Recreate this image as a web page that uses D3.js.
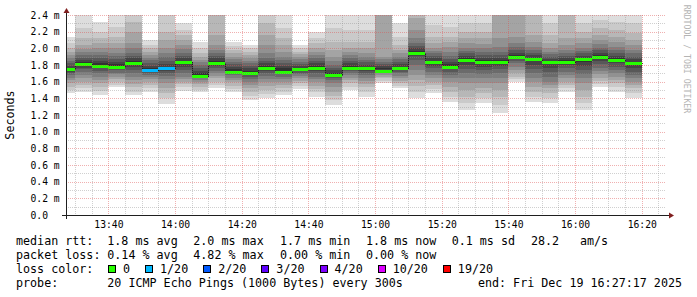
<!DOCTYPE html>
<html>
<head>
<meta charset="utf-8">
<script src="https://cdn.jsdelivr.net/npm/d3@7"></script>
<style>
body { margin: 0; background: #fff; }
text { font-family: "DejaVu Sans Mono", monospace; fill: #000; }
</style>
</head>
<body>
<svg id="chart" width="697" height="297"></svg>
<script>

// end of each 5 minute step (hh:mm, Dec 19 2025)
var stepEnds = ["13:30","13:35","13:40","13:45","13:50","13:55","14:00","14:05","14:10","14:15",
                "14:20","14:25","14:30","14:35","14:40","14:45","14:50","14:55","15:00","15:05",
                "15:10","15:15","15:20","15:25","15:30","15:35","15:40","15:45","15:50","15:55",
                "16:00","16:05","16:10","16:15","16:20"];

// median rtt in ms
var medians = [1.75,1.81,1.79,1.78,1.82,1.74,1.76,1.83,1.67,1.82,1.72,1.71,1.77,1.72,1.75,1.76,1.68,1.76,
               1.76,1.73,1.77,1.95,1.83,1.78,1.86,1.84,1.83,1.90,1.87,1.83,1.84,1.87,1.90,1.86,1.82];

// lost pings out of 20
var lost = [0,0,0,0,0,1,1,0,0,0,0,0,0,0,0,0,0,0,0,0,0,0,0,0,0,0,0,0,0,0,0,0,0,0,0];

// the 20 sorted ping times (ms) of every step
var pings = [
  [1.46,1.50,1.54,1.58,1.62,1.65,1.68,1.70,1.72,1.74,1.77,1.79,1.82,1.85,1.88,1.92,1.96,2.00,2.06,2.14],
  [1.47,1.52,1.56,1.60,1.64,1.68,1.72,1.75,1.77,1.79,1.83,1.86,1.88,1.92,1.96,1.99,2.04,2.12,2.24,2.45],
  [1.44,1.49,1.53,1.58,1.62,1.66,1.70,1.73,1.76,1.78,1.82,1.85,1.88,1.92,1.96,2.01,2.06,2.12,2.20,2.32],
  [1.53,1.56,1.60,1.63,1.66,1.69,1.71,1.74,1.76,1.78,1.81,1.84,1.87,1.91,1.95,2.00,2.06,2.14,2.26,2.45],
  [1.44,1.48,1.53,1.57,1.62,1.66,1.70,1.74,1.78,1.81,1.85,1.88,1.91,1.95,2.00,2.06,2.20,2.32,2.60,2.90],
  [1.48,1.52,1.56,1.60,1.63,1.66,1.68,1.70,1.72,1.74,1.76,1.79,1.82,1.86,1.89,1.92,1.96,2.00,2.04,2.10],
  [1.33,1.40,1.46,1.52,1.58,1.63,1.67,1.70,1.73,1.75,1.78,1.81,1.85,1.90,1.95,2.01,2.10,2.20,2.50,2.80],
  [1.49,1.53,1.57,1.60,1.63,1.66,1.70,1.74,1.78,1.81,1.85,1.88,1.91,1.95,1.99,2.04,2.10,2.16,2.22,2.30],
  [1.47,1.50,1.54,1.57,1.60,1.62,1.64,1.66,1.67,1.68,1.70,1.73,1.76,1.80,1.83,1.86,1.90,1.95,2.00,2.08],
  [1.52,1.56,1.60,1.64,1.67,1.70,1.73,1.76,1.79,1.82,1.85,1.88,1.91,1.94,1.98,2.04,2.16,2.45,2.60,2.90],
  [1.47,1.51,1.55,1.59,1.62,1.65,1.68,1.70,1.72,1.73,1.75,1.78,1.81,1.84,1.87,1.90,1.94,1.98,2.03,2.08],
  [1.38,1.43,1.48,1.52,1.56,1.60,1.63,1.66,1.69,1.71,1.73,1.76,1.79,1.82,1.85,1.88,1.92,1.96,2.00,2.04],
  [1.40,1.45,1.50,1.55,1.59,1.63,1.67,1.70,1.73,1.76,1.79,1.82,1.85,1.89,1.94,2.04,2.16,2.30,2.60,2.80],
  [1.44,1.48,1.52,1.56,1.60,1.63,1.66,1.69,1.71,1.73,1.76,1.79,1.82,1.86,1.90,1.96,2.04,2.12,2.24,2.45],
  [1.51,1.55,1.58,1.61,1.64,1.67,1.69,1.71,1.73,1.75,1.77,1.79,1.81,1.84,1.87,1.90,1.93,1.96,2.00,2.04],
  [1.42,1.47,1.51,1.55,1.59,1.63,1.66,1.70,1.73,1.76,1.79,1.82,1.85,1.88,1.92,1.96,2.01,2.06,2.12,2.20],
  [1.32,1.38,1.43,1.48,1.54,1.58,1.62,1.65,1.67,1.69,1.71,1.74,1.77,1.80,1.85,1.90,1.98,2.08,2.24,2.45],
  [1.50,1.54,1.58,1.62,1.65,1.68,1.71,1.73,1.75,1.77,1.79,1.82,1.85,1.88,1.92,1.96,2.01,2.08,2.22,2.45],
  [1.42,1.48,1.53,1.57,1.61,1.65,1.68,1.71,1.73,1.75,1.78,1.80,1.83,1.86,1.90,1.95,2.00,2.08,2.22,2.45],
  [1.58,1.61,1.64,1.66,1.68,1.70,1.72,1.73,1.74,1.75,1.77,1.79,1.81,1.84,1.87,1.90,2.45,2.60,2.80,3.00],
  [1.52,1.55,1.58,1.61,1.64,1.67,1.70,1.72,1.74,1.76,1.78,1.81,1.84,1.87,1.90,1.94,1.98,2.04,2.14,2.30],
  [1.41,1.48,1.55,1.62,1.68,1.74,1.80,1.86,1.91,1.94,1.97,2.00,2.03,2.06,2.12,2.22,2.36,2.50,2.70,2.90],
  [1.46,1.51,1.56,1.60,1.64,1.68,1.72,1.76,1.79,1.82,1.85,1.88,1.91,1.94,1.97,2.01,2.06,2.14,2.28,2.45],
  [1.36,1.42,1.48,1.54,1.60,1.64,1.68,1.72,1.75,1.78,1.81,1.84,1.87,1.91,1.96,2.02,2.08,2.14,2.26,2.45],
  [1.26,1.34,1.42,1.50,1.58,1.64,1.70,1.75,1.80,1.84,1.88,1.91,1.94,1.97,2.01,2.06,2.12,2.20,2.30,2.45],
  [1.34,1.40,1.46,1.52,1.58,1.64,1.69,1.74,1.78,1.82,1.86,1.89,1.92,1.96,2.00,2.05,2.12,2.20,2.30,2.45],
  [1.22,1.32,1.42,1.50,1.58,1.64,1.70,1.75,1.79,1.82,1.86,1.89,1.92,1.96,2.02,2.12,2.45,2.60,2.80,3.00],
  [1.60,1.63,1.66,1.70,1.74,1.78,1.82,1.85,1.88,1.90,1.92,1.95,1.98,2.02,2.06,2.14,2.45,2.60,2.80,3.00],
  [1.36,1.42,1.48,1.54,1.60,1.65,1.70,1.75,1.80,1.85,1.89,1.92,1.95,1.98,2.02,2.08,2.16,2.50,2.70,2.90],
  [1.34,1.40,1.46,1.52,1.56,1.60,1.66,1.72,1.77,1.81,1.85,1.87,1.90,1.93,1.96,2.00,2.06,2.16,2.30,2.45],
  [1.48,1.52,1.56,1.60,1.64,1.68,1.72,1.76,1.80,1.83,1.86,1.88,1.91,1.94,1.98,2.04,2.12,2.50,2.70,2.90],
  [1.26,1.34,1.42,1.50,1.58,1.64,1.69,1.74,1.79,1.84,1.88,1.91,1.94,1.97,2.01,2.06,2.12,2.20,2.30,2.45],
  [1.53,1.57,1.61,1.65,1.69,1.73,1.77,1.81,1.85,1.89,1.92,1.95,1.98,2.01,2.05,2.10,2.16,2.24,2.34,2.45],
  [1.48,1.53,1.58,1.62,1.66,1.70,1.74,1.78,1.82,1.85,1.88,1.91,1.94,1.98,2.02,2.08,2.14,2.22,2.32,2.45],
  [1.40,1.46,1.52,1.56,1.60,1.64,1.68,1.72,1.76,1.80,1.84,1.87,1.90,1.94,1.98,2.04,2.10,2.18,2.30,2.45]
];

var rttStats  = ["1.8 ms avg", "2.0 ms max", "1.7 ms min", "1.8 ms now", "0.1 ms sd", "28.2", "am/s"];
var lossStats = ["0.14 % avg", "4.82 % max", "0.00 % min", "0.00 % now"];
var lossLabels = ["0", "1/20", "2/20", "3/20", "4/20", "10/20", "19/20"];
var lossColors = ["#26ff00", "#00b8ff", "#0059ff", "#5e00ff", "#7e00ff", "#dd00ff", "#ff0000"];
var lossLimits = [1, 2, 3, 4, 10, 19];
var probeText = "20 ICMP Echo Pings (1000 Bytes) every 300s";
var endText = "end: Fri Dec 19 16:27:17 2025";

var endTime = new Date(2025, 11, 19, 16, 27, 17);
var startTime = d3.timeHour.offset(endTime, -3);

function toDate(s) {
  var p = s.split(":");
  return new Date(2025, 11, 19, +p[0], +p[1]);
}

var data = stepEnds.map(function(s, i) {
  var t1 = toDate(s);
  return { t0: d3.timeMinute.offset(t1, -5), t1: t1, median: medians[i], lost: lost[i], pings: pings[i] };
});

var pLeft = 66, pRight = 666, pTop = 15, pBottom = 215;

var x = d3.scaleTime().domain([startTime, endTime]).range([pLeft, pRight]);
var y = d3.scaleLinear().domain([0, 2.4]).range([pBottom, pTop]);
var lossColor = d3.scaleThreshold().domain(lossLimits).range(lossColors);

var svg = d3.select("#chart");
svg.append("rect").attr("width", 697).attr("height", 297).attr("fill", "#fff");

svg.append("clipPath").attr("id", "plot")
  .append("rect").attr("x", pLeft).attr("y", pTop).attr("width", pRight - pLeft).attr("height", pBottom - pTop);

var plot = svg.append("g").attr("clip-path", "url(#plot)").attr("shape-rendering", "crispEdges");

// smoke: pair k covers pings[k] .. pings[19-k], darker towards the middle
var layers = d3.range(10);
var step = plot.selectAll(".step").data(data).enter().append("g");
step.selectAll("rect").data(function(d) {
    return layers.map(function(k) { return { d: d, k: k }; });
  }).enter().append("rect")
  .attr("x", function(e) { return Math.round(x(e.d.t0)); })
  .attr("width", function(e) { return Math.round(x(e.d.t1)) - Math.round(x(e.d.t0)); })
  .attr("y", function(e) { return Math.round(y(e.d.pings[19 - e.k])); })
  .attr("height", function(e) { return Math.round(y(e.d.pings[e.k])) - Math.round(y(e.d.pings[19 - e.k])); })
  .attr("fill", function(e) { var g = 50 + 19 * (9 - e.k); return d3.rgb(g, g, g); });

// median step line
var pts = [];
data.forEach(function(d) { pts.push([x(d.t0), d.median], [x(d.t1), d.median]); });
plot.append("path")
  .attr("d", d3.line().x(function(p) { return Math.round(p[0]) + 0.5; })
                      .y(function(p) { return Math.round(y(p[1])) + 0.5; })(pts))
  .attr("fill", "none").attr("stroke", "#202020").attr("stroke-width", 1);

plot.selectAll(".med").data(data).enter().append("rect")
  .attr("x", function(d) { return Math.round(x(d.t0)); })
  .attr("width", function(d) { return Math.round(x(d.t1)) - Math.round(x(d.t0)); })
  .attr("y", function(d) { return Math.round(y(d.median)) - 1; })
  .attr("height", 3)
  .attr("fill", function(d) { return lossColor(d.lost); });

// grid
var grid = svg.append("g").attr("shape-rendering", "crispEdges").attr("stroke-width", 1).attr("stroke-dasharray", "1,1");
var majorY = y.ticks(12);
var minorY = y.ticks(24).filter(function(v) { return Math.round(v * 10) % 2 === 1; });
var majorX = x.ticks(d3.timeMinute.every(20));
var minorX = x.ticks(d3.timeMinute.every(5)).filter(function(t) { return t.getMinutes() % 20 !== 0; });
var minorCol = "rgba(143,143,143,0.42)", majorCol = "rgba(222,79,79,0.45)";

grid.selectAll(".gy").data(minorY).enter().append("line")
  .attr("x1", pLeft).attr("x2", pRight)
  .attr("y1", function(v) { return Math.round(y(v)) + 0.5; }).attr("y2", function(v) { return Math.round(y(v)) + 0.5; })
  .attr("stroke", minorCol);
grid.selectAll(".gx").data(minorX).enter().append("line")
  .attr("y1", pTop).attr("y2", pBottom)
  .attr("x1", function(t) { return Math.round(x(t)) + 0.5; }).attr("x2", function(t) { return Math.round(x(t)) + 0.5; })
  .attr("stroke", minorCol);
grid.selectAll(".my").data(majorY.filter(function(v) { return v > 0; })).enter().append("line")
  .attr("x1", pLeft).attr("x2", pRight)
  .attr("y1", function(v) { return Math.round(y(v)) + 0.5; }).attr("y2", function(v) { return Math.round(y(v)) + 0.5; })
  .attr("stroke", majorCol);
grid.selectAll(".mx").data(majorX).enter().append("line")
  .attr("y1", pTop).attr("y2", pBottom)
  .attr("x1", function(t) { return Math.round(x(t)) + 0.5; }).attr("x2", function(t) { return Math.round(x(t)) + 0.5; })
  .attr("stroke", majorCol);

// axes (labels only, rrdtool style)
var xAxis = svg.append("g").attr("transform", "translate(0," + pBottom + ")")
  .call(d3.axisBottom(x).ticks(d3.timeMinute.every(20)).tickFormat(d3.timeFormat("%H:%M")).tickSize(0).tickPadding(6));
xAxis.select(".domain").remove();
xAxis.selectAll("text").attr("font-family", "DejaVu Sans Mono").attr("font-size", "9.7px").attr("fill", "#000");

var yAxis = svg.append("g").attr("transform", "translate(" + pLeft + ",0)")
  .call(d3.axisLeft(y).ticks(12).tickFormat(function(v) { return v === 0 ? "0.0" : d3.format(".1f")(v) + " m"; }).tickSize(0));
yAxis.select(".domain").remove();
yAxis.selectAll("text").attr("font-family", "DejaVu Sans Mono").attr("font-size", "9.7px").attr("fill", "#000")
  .attr("text-anchor", "start").attr("x", 30.5 - pLeft);

svg.append("line").attr("x1", 62).attr("x2", 670).attr("y1", pBottom + 0.5).attr("y2", pBottom + 0.5)
  .attr("stroke", "#1f1f1f").attr("shape-rendering", "crispEdges");
svg.append("line").attr("x1", pLeft + 0.5).attr("x2", pLeft + 0.5).attr("y1", 219).attr("y2", 12)
  .attr("stroke", "#1f1f1f").attr("shape-rendering", "crispEdges");
svg.append("path").attr("d", "M669,212.5L674,215.5L669,218.5Z").attr("fill", "#801f1f");
svg.append("path").attr("d", "M63.5,13L66.5,8L69.5,13Z").attr("fill", "#801f1f");

svg.append("text").attr("transform", "translate(10,115) rotate(-90)")
  .attr("text-anchor", "middle").attr("dominant-baseline", "central")
  .attr("font-size", "11.7px").text("Seconds");

svg.append("text").attr("transform", "translate(687,59) rotate(90)")
  .attr("text-anchor", "middle").attr("dominant-baseline", "central")
  .attr("font-size", "8.2px").style("fill", "#b4b4b4").text("RRDTOOL / TOBI OETIKER");

// legend
var cols = [107.3, 193.3, 280, 366, 451.7, 531, 580];
var lines = [244.8, 258.9, 273, 287.1];
var legend = svg.append("g").attr("font-size", "11.7px");

legend.append("text").attr("x", 16).attr("y", lines[0]).text("median rtt:");
rttStats.forEach(function(s, i) { legend.append("text").attr("x", cols[i]).attr("y", lines[0]).text(s); });

legend.append("text").attr("x", 16).attr("y", lines[1]).text("packet loss:");
lossStats.forEach(function(s, i) { legend.append("text").attr("x", cols[i]).attr("y", lines[1]).text(s); });

legend.append("text").attr("x", 16).attr("y", lines[2]).text("loss color:");
var cx = 108;
lossLabels.forEach(function(lab, i) {
  legend.append("rect").attr("x", cx + 0.5).attr("y", lines[2] - 7.5).attr("width", 7).attr("height", 7)
    .attr("fill", lossColors[i]).attr("stroke", "#000").attr("shape-rendering", "crispEdges");
  var t = legend.append("text").attr("x", cx + 15).attr("y", lines[2]).text(lab);
  cx = cx + 15 + t.node().getComputedTextLength() + 15;
});

legend.append("text").attr("x", 16).attr("y", lines[3]).text("probe:");
legend.append("text").attr("x", cols[0]).attr("y", lines[3]).text(probeText);
legend.append("text").attr("x", 682).attr("y", lines[3]).attr("text-anchor", "end").text(endText);

</script>
</body>
</html>
